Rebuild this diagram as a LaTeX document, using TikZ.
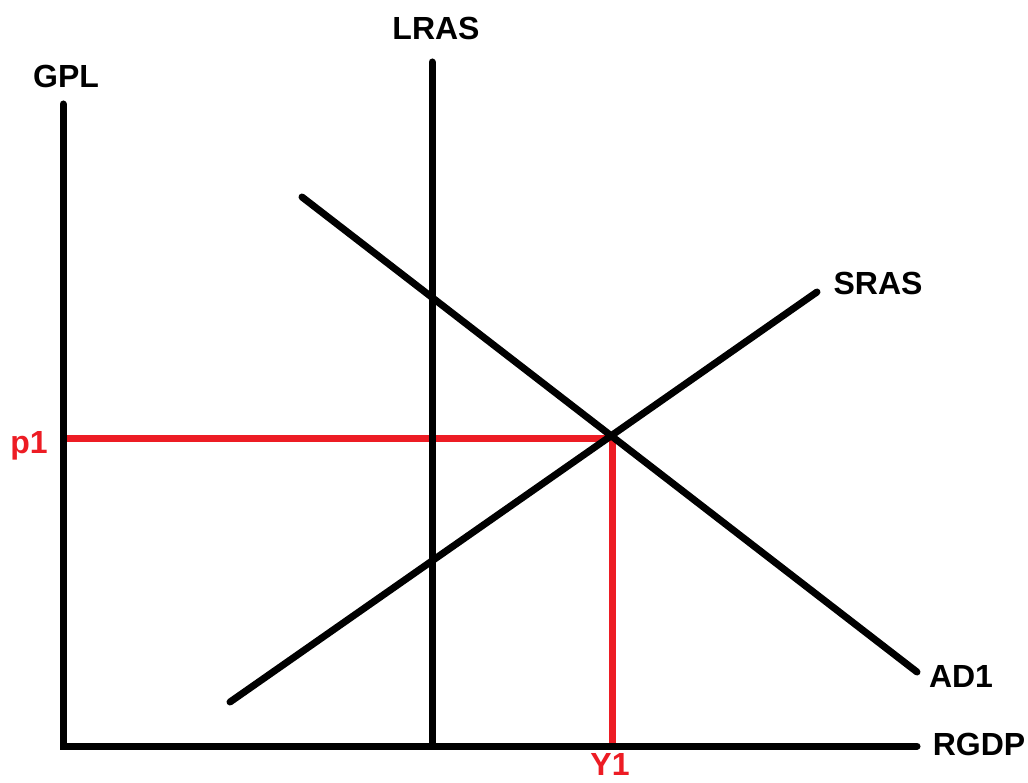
\documentclass[tikz,border=0pt]{standalone}
\usepackage{fontspec}
\setmainfont{Liberation Sans}
\definecolor{myred}{RGB}{237,28,36}
\begin{document}
\begin{tikzpicture}[x=1pt,y=-1pt,
  curve/.style={line width=7pt,line cap=round,black},
  guide/.style={line width=7pt,myred},
  lbl/.style={font=\fontsize{32}{32}\selectfont\bfseries,inner sep=0pt,anchor=base},
  redlbl/.style={lbl,text=myred}]
\useasboundingbox[fill=white] (0,0) rectangle (1028,783);
% coordinates
\coordinate (gtop) at (63,104);
\coordinate (orig) at (63,746);
\coordinate (xend) at (917,746);
\coordinate (ltop) at (432,62);
\coordinate (lbot) at (432,746);
\coordinate (adA) at (302,197);
\coordinate (adB) at (917,672);
\coordinate (srA) at (230,702);
\coordinate (srB) at (817,292);
\coordinate (eq) at (612,438);
\coordinate (p1L) at (63,438);
\coordinate (y1B) at (612,746);
% red guides
\draw[guide] (p1L) -- (eq) -- (y1B);
% axes and curves
\draw[curve] (gtop) -- (orig) -- (xend);
\draw[curve] (ltop) -- (lbot);
\draw[curve] (adA) -- (adB);
\draw[curve] (srA) -- (srB);
% labels
\node[lbl] (gpl) at (66,88) {GPL};
\node[lbl] (lras) at (436,40) {LRAS};
\node[lbl] (sras) at (878,295) {SRAS};
\node[lbl] (ad1) at (961,687) {AD1};
\node[lbl] (rgdp) at (979,755) {RGDP};
\node[redlbl] (p1) at (29,453) {p1};
\node[redlbl] (y1) at (610,775) {Y1};
\end{tikzpicture}
\end{document}
